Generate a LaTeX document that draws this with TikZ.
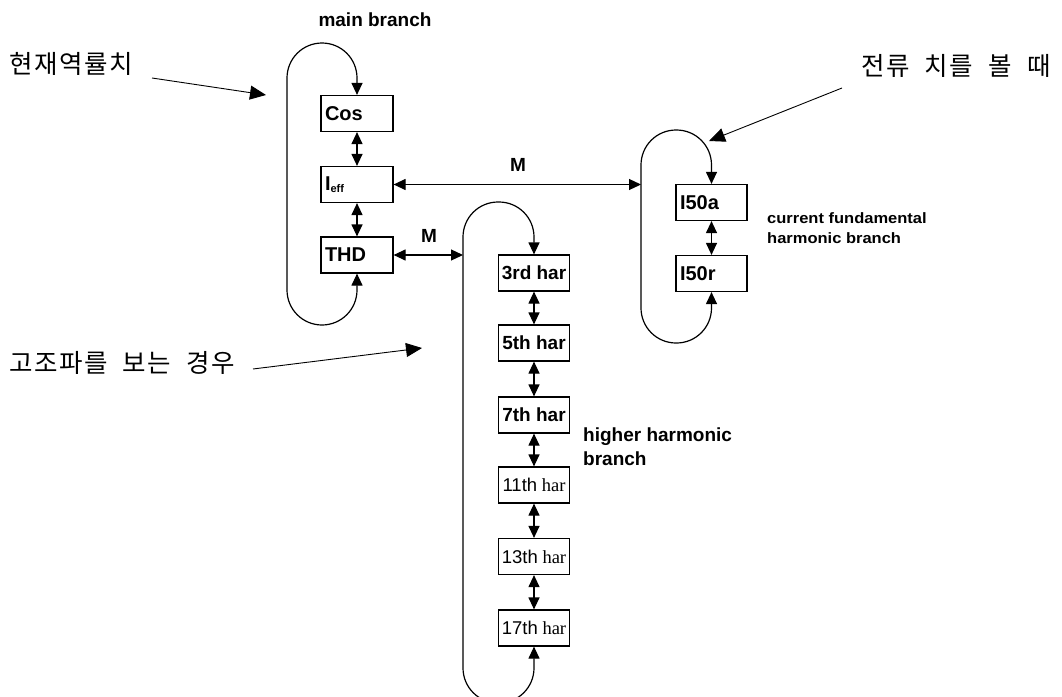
\documentclass[tikz,border=0pt]{standalone}
\usepackage{fontspec}
\setmainfont{Liberation Serif}
\setsansfont{Liberation Sans}
\newfontfamily\kor[LetterSpace=6,WordSpace=2.1]{Noto Sans CJK KR}
\newfontfamily\widesans[FakeStretch=1.1]{Liberation Sans}
\usetikzlibrary{arrows.meta}
\tikzset{
  bt/.tip={Triangle[length=12pt,width=11pt]},
  bigtip/.tip={Triangle[length=16pt,width=14pt]},
  ln/.style={line width=1.2pt},
  dbl/.style={ln, bt-bt},
  loopline/.style={ln, bt-bt, rounded corners=35pt},
  ann/.style={line width=0.9pt, -bigtip},
  box/.style={draw, ln, minimum width=72pt, minimum height=36pt, inner sep=0pt},
  lbox/.style={box, text width=64pt, align=left, font=\sffamily\bfseries\fontsize{20}{22}\selectfont},
  hbox/.style={box, minimum width=71pt, font=\sffamily\bfseries\fontsize{19}{22}\selectfont},
  mbox/.style={box, minimum width=71pt, font=\fontsize{18.5}{22}\selectfont},
  lab/.style={inner sep=0pt, font=\sffamily\bfseries\fontsize{19}{24}\selectfont},
  smalllab/.style={inner sep=0pt, font=\widesans\bfseries\fontsize{15}{20}\selectfont},
  kt/.style={inner sep=0pt, anchor=west, font=\kor\fontsize{25.5}{27}\selectfont},
}
\begin{document}
\begin{tikzpicture}[x=1pt,y=-1pt]
\useasboundingbox (0,0) rectangle (1062,696);
% main branch
\node[lbox] (cos) at (357,113.5) {Cos};
\node[lbox] (ieff) at (357,184.5) {I\raisebox{-1.5pt}{\fontsize{11}{11}\selectfont eff}};
\node[lbox] (thd) at (357,255) {THD};
\draw[dbl] (cos.south) -- (ieff.north);
\draw[dbl] (ieff.south) -- (thd.north);
\draw[loopline] (thd.south) -- (357,325) -- (287,325) -- (287,43) -- (357,43) -- (cos.north);
\node[lab] (mb) at (375,20) {main branch};
% higher harmonic branch
\node[hbox] (h3) at (534,273) {3rd har};
\node[hbox] (h5) at (534,343) {5th har};
\node[hbox] (h7) at (534,415) {7th har};
\node[mbox] (h11) at (534,485) {{\sffamily 11th} har};
\node[mbox] (h13) at (534,556.5) {{\sffamily 13th} har};
\node[mbox] (h17) at (534,628) {{\sffamily 17th} har};
\draw[dbl] (h3.south) -- (h5.north);
\draw[dbl] (h5.south) -- (h7.north);
\draw[dbl] (h7.south) -- (h11.north);
\draw[dbl] (h11.south) -- (h13.north);
\draw[dbl] (h13.south) -- (h17.north);
\draw[loopline] (h17.south) -- (534,703) -- (463,703) -- (463,202) -- (534,202) -- (h3.north);
\node[lab, anchor=west, align=left] (hh) at (583,447) {higher harmonic\\branch};
% current fundamental branch
\node[hbox, font=\sffamily\bfseries\fontsize{20}{22}\selectfont, text width=63pt, align=left] (ia) at (711.5,202.5) {I50a};
\node[hbox, font=\sffamily\bfseries\fontsize{20}{22}\selectfont, text width=63pt, align=left] (ir) at (711.5,273.5) {I50r};
\draw[dbl] (ia.south) -- (ir.north);
\draw[loopline] (ir.south) -- (711.5,343) -- (641,343) -- (641,130) -- (711.5,130) -- (ia.north);
\node[smalllab, anchor=west, align=left] (cf) at (767,228) {current fundamental\\harmonic branch};
% M connections
\coordinate (m1) at (641,184.5);
\coordinate (m2) at (463,255);
\draw[dbl] (ieff.east) -- (m1);
\draw[dbl] (thd.east) -- (m2);
\node[lab] (m1l) at (518,165) {M};
\node[lab] (m2l) at (429,236) {M};
% Korean annotations
\node[kt] (t1) at (9,64) {현재역률치};
\node[kt] (t2) at (9,363) {고조파를 보는 경우};
\node[kt] (t3) at (861,66) {전류 치를 볼 때};
\coordinate (a1s) at (152,78);
\coordinate (a1e) at (266,95);
\coordinate (a2s) at (253,369);
\coordinate (a2e) at (422,348);
\coordinate (a3s) at (842,88);
\coordinate (a3e) at (709,141);
\draw[ann] (a1s) -- (a1e);
\draw[ann] (a2s) -- (a2e);
\draw[ann] (a3s) -- (a3e);
\end{tikzpicture}
\end{document}
